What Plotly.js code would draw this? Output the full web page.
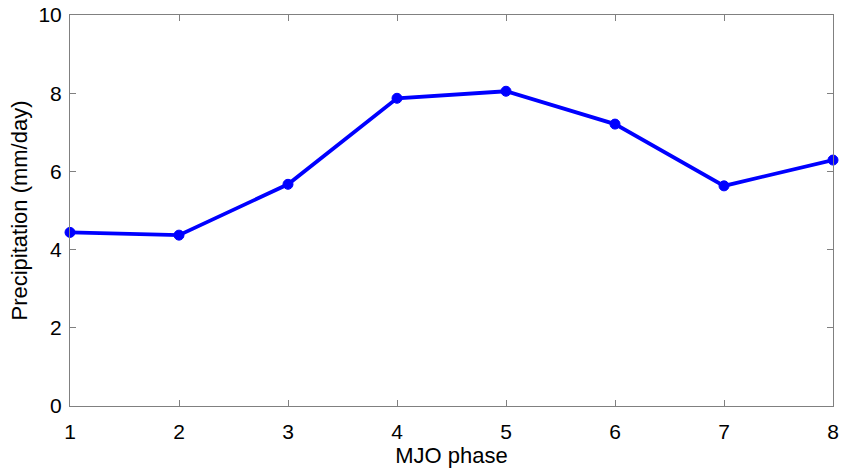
<!DOCTYPE html>
<html><head><meta charset="utf-8">
<script src="https://cdn.plot.ly/plotly-3.0.1.min.js"></script>
<style>html,body{margin:0;padding:0;background:#fff}</style>
</head><body>
<div id="chart" style="width:842px;height:469px"></div>
<script>
const phases = [1, 2, 3, 4, 5, 6, 7, 8];
const precipitation = [4.44, 4.37, 5.67, 7.87, 8.05, 7.21, 5.63, 6.29];
const xTicks = [1, 2, 3, 4, 5, 6, 7, 8];
const yTicks = [0, 2, 4, 6, 8, 10];

const FONT = 'Liberation Sans, Arial, sans-serif';
const trace = {
  x: phases, y: precipitation, type: 'scatter', mode: 'lines+markers',
  line: {color: '#0000ff', width: 3.8},
  marker: {symbol: 'circle', size: 10, color: '#0000ff', line: {color: '#0000ff', width: 1}},
  cliponaxis: false, hoverinfo: 'skip'
};
const axisCommon = {
  showgrid: false, zeroline: false, showline: true, mirror: 'ticks',
  linecolor: '#808080', linewidth: 1, ticks: 'inside', ticklen: 6,
  tickcolor: '#808080', tickwidth: 1,
  tickfont: {family: FONT, size: 21, color: '#000'}
};
const layout = {
  width: 842, height: 469,
  margin: {l: 70, r: 9, t: 15, b: 63},
  paper_bgcolor: '#fff', plot_bgcolor: '#fff',
  showlegend: false,
  xaxis: Object.assign({}, axisCommon, {
    range: [1, 8], tickvals: xTicks, ticktext: xTicks.map(String),
    ticklabelstandoff: 7,
    title: {text: 'MJO phase', standoff: 3,
      font: {family: FONT, size: 22, color: '#000'}}
  }),
  yaxis: Object.assign({}, axisCommon, {
    range: [0, 10], tickvals: yTicks, ticktext: yTicks.map(String),
    ticklabelstandoff: 3,
    title: {text: 'Precipitation (mm/day)', standoff: 4,
      font: {family: FONT, size: 22, color: '#000'}}
  })
};
Plotly.newPlot('chart', [trace], layout, {staticPlot: true, displayModeBar: false});
</script>
</body></html>
